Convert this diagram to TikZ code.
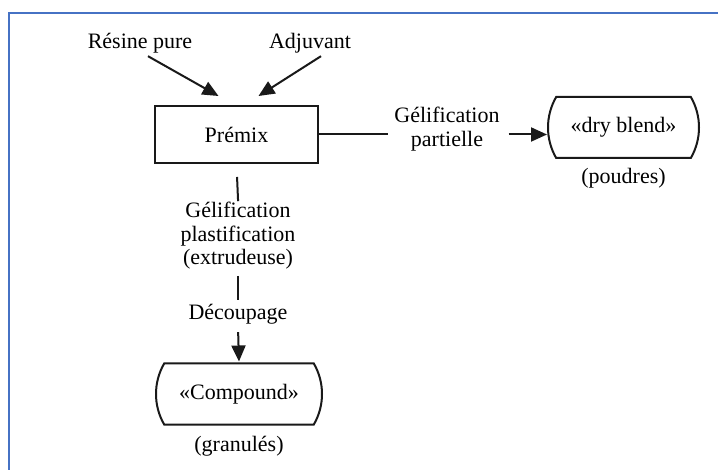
\documentclass[tikz,border=0pt]{standalone}
\usepackage{fontspec}
\setmainfont{Liberation Serif}
\usepackage{xcolor}
\usetikzlibrary{positioning,shapes.misc,arrows.meta}
\definecolor{framebl}{RGB}{70,114,196}
\tikzset{
  % --- text and boxes --------------------------------------------------------
  lbl/.style={inner sep=3pt,align=center,text=black,
              font=\fontsize{22}{23.5}\selectfont},
  stage/.style={lbl,draw=black!90,line width=2pt,rectangle,
                minimum width=163pt,minimum height=57pt},
  prod/.style={lbl,draw=black!90,line width=2pt,rounded rectangle,
               rounded rectangle arc length=60,minimum height=61pt},
  % --- links -----------------------------------------------------------------
  link/.style={black!90,line width=2pt},
  flow/.style={link,-{Triangle[length=16pt,width=14pt]}},
}

\begin{document}
\begin{tikzpicture}[x=1pt, y=-1pt]
  \useasboundingbox (0,0) rectangle (718,470);
  \draw[framebl,line width=2.5pt] (9,472) -- (9,13) -- (720,13);

  % ---- inputs and premix ----
  \node[lbl]   (resine) at (140,43)    {Résine pure};
  \node[lbl]   (adjuv)  at (310,43)    {Adjuvant};
  \node[stage] (premix) at (236.5,134.5) {Prémix};

  % ---- partial gelling branch ----
  \node[lbl]  (gelpart) at (447,129) {Gélification\\partielle};
  \node[prod,minimum width=157pt] (dry) at (623.5,127.5) {«dry blend»};
  \node[lbl,below=6pt of dry] (poudres) {(poudres)};

  % ---- extrusion branch ----
  \node[lbl]  (gelplast) at (238,236) {Gélification\\plastification\\(extrudeuse)};
  \node[lbl]  (decoup)   at (238,314) {Découpage};
  \node[prod,minimum width=172pt] (comp) at (239,394) {«Compound»};
  \node[lbl,below=8pt of comp] (granul) {(granulés)};

  \draw[flow] ([xshift=8pt]resine.south) -- ([xshift=-18pt,yshift=9pt]premix.north);
  \draw[flow] ([xshift=11pt]adjuv.south) -- ([xshift=22pt,yshift=9pt]premix.north);
  \draw[link,shorten >=3pt] (premix.east) -- (premix.east -| gelpart.west);
  \draw[flow,shorten <=6pt] (gelpart.east |- premix.east) -- (dry.west |- premix.east);
  \draw[link,shorten <=13pt,shorten >=-2pt] (premix.south) -- (gelplast.north);
  \draw[link,shorten <=3pt,shorten >=1pt] (gelplast.south) -- (decoup.north);
  \draw[flow,shorten <=5pt,shorten >=1pt] (decoup.south) -- (comp.north);
\end{tikzpicture}
\end{document}
